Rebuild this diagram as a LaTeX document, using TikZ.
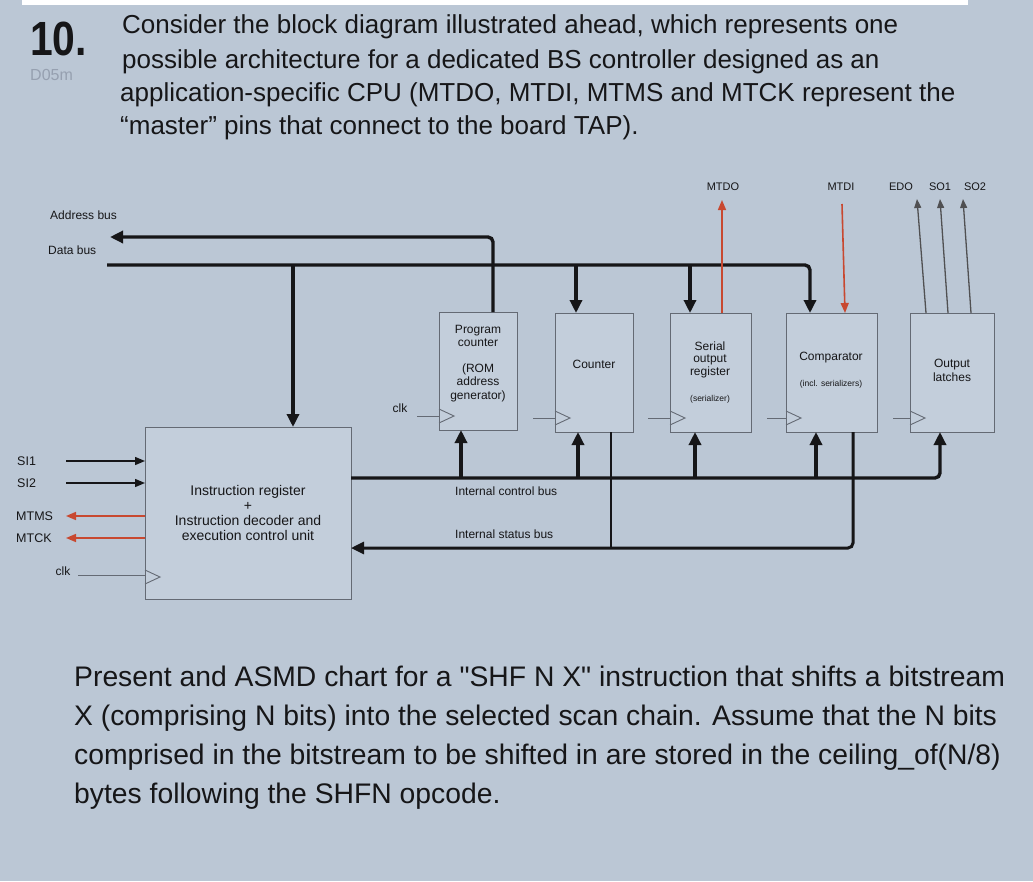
\documentclass[tikz,border=0pt]{standalone}
\usepackage{fontspec}
\setmainfont{Liberation Sans}
\newfontfamily\plainfont{Liberation Sans}[Ligatures=TeXOff]
\usetikzlibrary{arrows.meta,calc}
\definecolor{bg}{RGB}{187,199,213}
\definecolor{boxfill}{RGB}{195,206,219}
\definecolor{ink}{RGB}{22,22,24}
\definecolor{redline}{RGB}{200,72,48}
\definecolor{boxline}{RGB}{100,106,116}
\definecolor{ghost}{RGB}{150,160,176}
\begin{document}
\begin{tikzpicture}[x=1pt,y=-1pt,
  blk/.style={draw=boxline,fill=boxfill,line width=0.9pt,inner sep=0pt,outer sep=0pt},
  bus/.style={draw=ink,line width=3.4pt,rounded corners=5pt},
  statbus/.style={draw=ink,line width=3pt,rounded corners=5pt},
  thinbus/.style={draw=ink,line width=2.4pt},
  bustip/.style={-{Triangle[length=13pt,width=12pt]}},
  sig/.style={draw=ink,line width=1.4pt,-{Triangle[length=10pt,width=8pt]}},
  redsig/.style={draw=redline,line width=1.6pt,-{Triangle[length=10pt,width=8pt]}},
  outsig/.style={draw=ink!75,line width=1.3pt,-{Triangle[length=9pt,width=7pt]}},
  clkline/.style={draw=boxline,line width=0.9pt},
  lbl/.style={font=\fontsize{12}{13.5}\selectfont,text=ink,inner sep=0pt,align=center},
  tinylbl/.style={font=\fontsize{8.5}{9}\selectfont,text=ink,inner sep=0pt},
  irlbl/.style={font=\fontsize{14}{15}\selectfont,text=ink,inner sep=0pt,align=center},
  title/.style={font=\fontsize{26}{30}\selectfont,text=ink,inner sep=0pt,anchor=base west},
  body/.style={font=\plainfont\fontsize{28.3}{30}\selectfont,text=ink,inner sep=0pt,anchor=base west},
  clock/.pic={\draw[clkline] (0,-7) -- (15,0) -- (0,7);}
]
\useasboundingbox (0,0) rectangle (1033,881);
\fill[bg] (0,0) rectangle (1033,881);
\fill[white] (22,0) rectangle (968,5);

% ---------- heading ----------
\node[inner sep=0pt,anchor=base west,text=ink] (num) at (30,55) {\scalebox{0.85}[1]{\fontsize{48}{50}\selectfont\bfseries 10.}};
\node[inner sep=0pt,anchor=base west,text=ghost] (code) at (30,80) {\fontsize{16}{17}\selectfont D05m};
\node[title] (t1) at (122,33) {Consider the block diagram illustrated ahead, which represents one};
\node[title] (t2) at (122,68) {possible architecture for a dedicated BS controller designed as an};
\node[title] (t3) at (120,101) {application-specific CPU (MTDO, MTDI, MTMS and MTCK represent the};
\node[title] (t4) at (120,134) {“master” pins that connect to the board TAP).};

% ---------- blocks ----------
\node[blk,minimum width=78pt,minimum height=118pt] (pc) at (478,371) {};
\node[blk,minimum width=78pt,minimum height=119pt] (cnt) at (594,372.5) {};
\node[blk,minimum width=81pt,minimum height=119pt] (ser) at (710.5,372.5) {};
\node[blk,minimum width=91pt,minimum height=119pt] (cmp) at (831.5,372.5) {};
\node[blk,minimum width=84pt,minimum height=119pt] (lat) at (952,372.5) {};
\node[blk,minimum width=206pt,minimum height=172pt] (ir) at (248,513) {};

% block texts
\node[lbl] (pcT1) at (478,336) {Program\\counter};
\node[lbl] (pcT2) at (478,382.5) {(ROM\\address\\generator)};
\node[lbl] (cntT) at (594,364) {Counter};
\node[lbl,font=\fontsize{12}{12.5}\selectfont] (serT) at (710,359.5) {Serial\\output\\register};
\node[tinylbl] (serT2) at (710,399) {(serializer)};
\node[lbl] (cmpT) at (831,358) {Comparator};
\node[tinylbl] (cmpT2) at (831,384) {(incl. serializers)};
\node[lbl,font=\fontsize{12}{14}\selectfont] (latT) at (952,370) {Output\\latches};
\node[irlbl] (irT) at (248,512.5) {Instruction register\\+\\Instruction decoder and\\execution control unit};

% clocks
\foreach \b/\l in {pc/22,cnt/22,ser/22,cmp/19,lat/17}{
  \pic at ($(\b.south west)+(0,-14)$) {clock};
  \coordinate (\b clk) at ($(\b.south west)+(-\l,-14)$);
  \draw[clkline] (\b clk) -- ($(\b.south west)+(0,-14)$);
}
\node[lbl] (pcclkL) at (400,408) {clk};
\pic at ($(ir.south west)+(0,-22)$) {clock};
\coordinate (irclk) at ($(ir.south west)+(-67,-24)$);
\draw[clkline] (irclk) -- ($(ir.south west)+(0,-24)$);
\node[lbl] (irclkL) at (63,571) {clk};

% ---------- address bus ----------
\node[lbl,anchor=west] (abL) at (50,215) {Address bus};
\coordinate (pcAddr) at ($(pc.north west)+(54,0)$);
\coordinate (abEnd) at (110,237);
\draw[bus,bustip] (pcAddr) |- (abEnd);

% ---------- data bus ----------
\node[lbl,anchor=west] (dbL) at (48,250) {Data bus};
\coordinate (dbStart) at (107,265);
\coordinate (irIn) at ($(ir.north west)+(148,0)$);
\coordinate (cntIn) at ($(cnt.north west)+(21,0)$);
\coordinate (serIn) at ($(ser.north west)+(20,0)$);
\coordinate (cmpIn) at ($(cmp.north west)+(24,0)$);
\draw[bus,bustip] (dbStart) -| (cmpIn);
\foreach \t in {irIn,cntIn,serIn}{
  \draw[bus,bustip,rounded corners=0pt] (dbStart -| \t) -- (\t);
}

% ---------- internal control bus ----------
\coordinate (cbStart) at ($(ir.north east)+(0,51)$);
\coordinate (latIn) at ($(lat.south west)+(30,0)$);
\coordinate (pcCtl) at ($(pc.south west)+(22,0)$);
\coordinate (cntCtl) at ($(cnt.south west)+(23,0)$);
\coordinate (serCtl) at ($(ser.south west)+(25,0)$);
\coordinate (cmpCtl) at ($(cmp.south west)+(30,0)$);
\draw[bus,bustip] (cbStart) -| (latIn);
\foreach \t in {pcCtl,cntCtl,serCtl,cmpCtl}{
  \draw[bus,bustip,rounded corners=0pt] (cbStart -| \t) -- (\t);
}
\node[lbl,anchor=west] (cbL) at (455,491) {Internal control bus};

% ---------- internal status bus ----------
\coordinate (sbEnd) at ($(ir.north east)+(0,121)$);
\coordinate (cmpSt) at ($(cmp.south west)+(67,0)$);
\coordinate (cntSt) at ($(cnt.south west)+(56,0)$);
\draw[statbus,bustip] (cmpSt) |- (sbEnd);
\draw[thinbus] (cntSt) -- (cntSt |- sbEnd);
\node[lbl,anchor=west] (sbL) at (455,534) {Internal status bus};

% ---------- external pins ----------
\node[lbl,font=\fontsize{11}{12}\selectfont] (mtdo) at (723,187) {MTDO};
\coordinate (serOut) at ($(ser.north west)+(52,0)$);
\coordinate (mtdoTip) at (722,200);
\draw[redsig] (serOut) -- (mtdoTip);

\node[lbl,font=\fontsize{11}{12}\selectfont] (mtdi) at (841,187) {MTDI};
\coordinate (mtdiSrc) at (842,204);
\coordinate (cmpDI) at ($(cmp.north west)+(59,0)$);
\draw[redsig] (mtdiSrc) -- (cmpDI);

\node[lbl,font=\fontsize{11}{12}\selectfont] (edo) at (901,187) {EDO};
\node[lbl,font=\fontsize{11}{12}\selectfont] (so1) at (940,187) {SO1};
\node[lbl,font=\fontsize{11}{12}\selectfont] (so2) at (975,187) {SO2};
\coordinate (latO1) at ($(lat.north west)+(16,0)$);
\coordinate (latO2) at ($(lat.north west)+(38,0)$);
\coordinate (latO3) at ($(lat.north west)+(61,0)$);
\coordinate (edoTip) at (917,199);
\coordinate (so1Tip) at (940,199);
\coordinate (so2Tip) at (963,199);
\draw[outsig] (latO1) -- (edoTip);
\draw[outsig] (latO2) -- (so1Tip);
\draw[outsig] (latO3) -- (so2Tip);

% left side signals
\node[lbl,font=\fontsize{12.5}{13}\selectfont,anchor=west] (si1) at (17,461) {SI1};
\node[lbl,font=\fontsize{12.5}{13}\selectfont,anchor=west] (si2) at (17,483) {SI2};
\node[lbl,font=\fontsize{12.5}{13}\selectfont,anchor=west] (mtms) at (16,516) {MTMS};
\node[lbl,font=\fontsize{12.5}{13}\selectfont,anchor=west] (mtck) at (16,538) {MTCK};
\coordinate (si1In) at (66,461);
\coordinate (si2In) at (66,483);
\coordinate (mtmsOut) at (66,516);
\coordinate (mtckOut) at (66,538);
\draw[sig] (si1In) -- (si1In -| ir.west);
\draw[sig] (si2In) -- (si2In -| ir.west);
\draw[redsig] (mtmsOut -| ir.west) -- (mtmsOut);
\draw[redsig] (mtckOut -| ir.west) -- (mtckOut);

% ---------- question ----------
\node[body] (b1) at (74,686) {Present and ASMD chart for a "SHF N X" instruction that shifts a bitstream};
\node[body] (b2) at (74,725) {X (comprising N bits) into the selected scan chain. Assume that the N bits};
\node[body] (b3) at (74,764) {comprised in the bitstream to be shifted in are stored in the ceiling\_of(N/8)};
\node[body] (b4) at (74,803) {bytes following the SHFN opcode.};
\end{tikzpicture}
\end{document}
